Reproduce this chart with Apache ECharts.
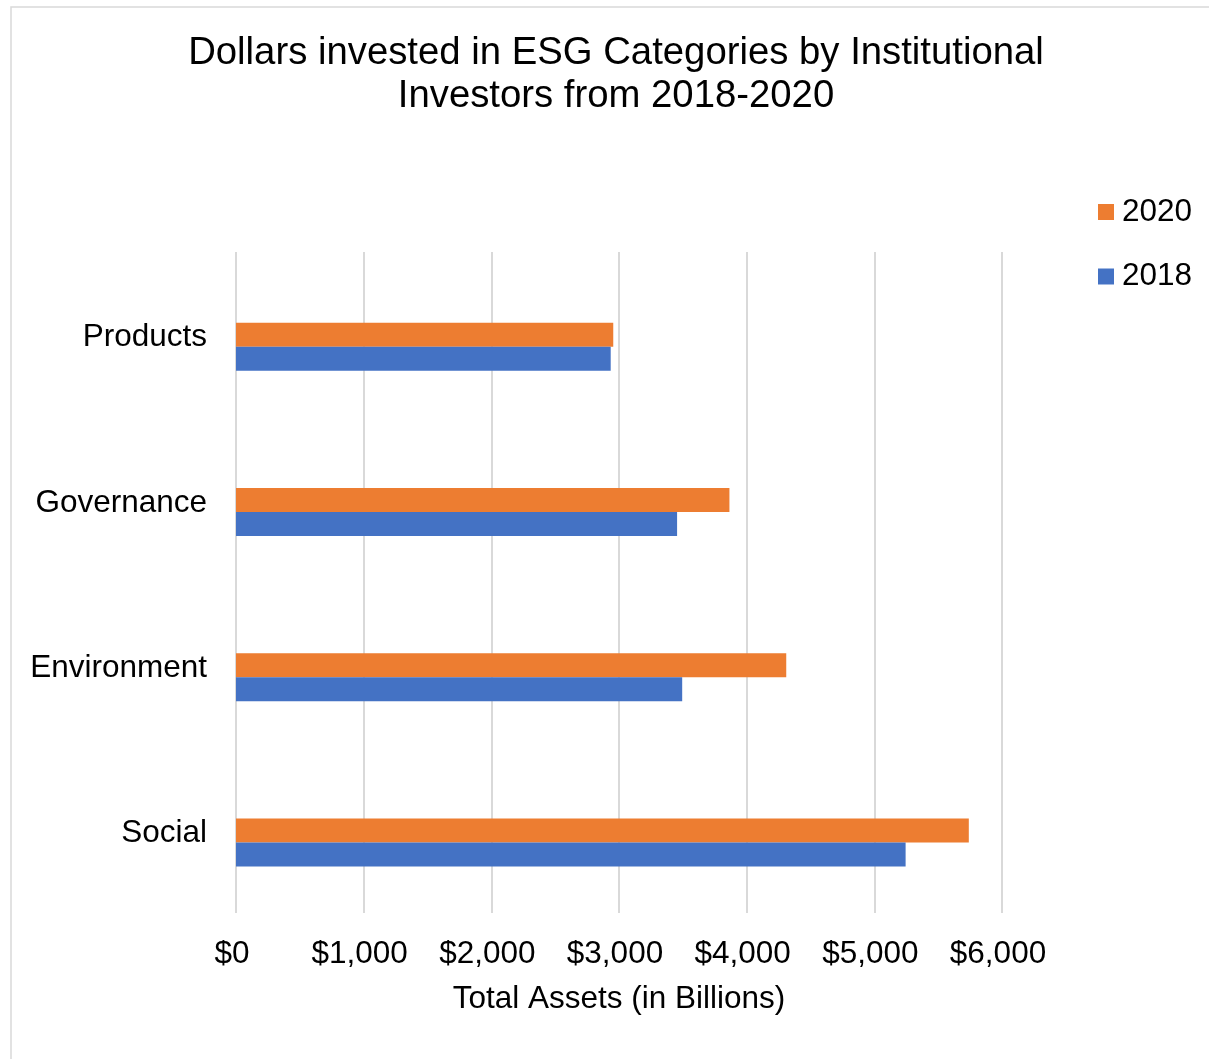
<!DOCTYPE html>
<html>
<head>
<meta charset="utf-8">
<script src="https://cdn.jsdelivr.net/npm/echarts@6/dist/echarts.min.js"></script>
<style>
  html, body { margin: 0; padding: 0; background: #fff; }
  #chart { width: 1209px; height: 1059px; }
</style>
</head>
<body>
<div id="chart"></div>
<script>
// ESG asset totals by category, in billions of dollars
const categories = ['Products', 'Governance', 'Environment', 'Social'];
const assets2020 = [2955, 3865, 4310, 5740];
const assets2018 = [2935, 3455, 3495, 5245];
const tickValues = [0, 1000, 2000, 3000, 4000, 5000, 6000];

const FONT = 'Arial, "Liberation Sans", sans-serif';
const chart = echarts.init(document.getElementById('chart'));

chart.setOption({
  backgroundColor: '#fff',
  animation: false,
  textStyle: { fontFamily: FONT, color: '#000' },
  graphic: [{
    type: 'rect',
    shape: { x: 11, y: 7, width: 1400, height: 1200 },
    style: { fill: 'none', stroke: '#d9d9d9', lineWidth: 1.5 },
    silent: true
  }],
  title: {
    text: 'Dollars invested in ESG Categories by Institutional\nInvestors from 2018-2020',
    left: 616,
    top: 32,
    padding: 0,
    textAlign: 'center',
    textStyle: { fontFamily: FONT, fontSize: 38.3, fontWeight: 'normal', color: '#000', lineHeight: 43 }
  },
  legend: {
    data: ['2020', '2018'],
    orient: 'vertical',
    left: 1098,
    top: 196,
    padding: 0,
    icon: 'rect',
    itemWidth: 16,
    itemHeight: 16,
    itemGap: 32.5,
    textStyle: { fontFamily: FONT, fontSize: 31.5, color: '#000', lineHeight: 32, padding: [0, 0, 0, 3] }
  },
  grid: { left: 236, right: 207, top: 252, bottom: 146, containLabel: false },
  xAxis: {
    type: 'value',
    min: tickValues[0],
    max: tickValues[tickValues.length - 1],
    interval: tickValues[1] - tickValues[0],
    name: 'Total Assets (in Billions)',
    nameLocation: 'middle',
    nameGap: 70,
    nameTextStyle: { fontFamily: FONT, fontSize: 31.5, color: '#000' },
    axisLine: { show: false },
    axisTick: { show: false },
    axisLabel: {
      fontFamily: FONT, fontSize: 31.5, color: '#000', margin: 25,
      padding: [0, 8, 0, 0],
      formatter: v => '$' + v.toLocaleString('en-US')
    },
    splitLine: { show: true, lineStyle: { color: '#d9d9d9', width: 2 } }
  },
  yAxis: {
    type: 'category',
    data: categories,
    inverse: true,
    axisLine: { show: false },
    axisTick: { show: false },
    splitLine: { show: false },
    axisLabel: {
      fontFamily: FONT, fontSize: 31.5, color: '#000', margin: 29,
      formatter: v => '{c|' + v + '}',
      rich: { c: { fontFamily: FONT, fontSize: 31.5, color: '#000', padding: [6, 0, 0, 0] } }
    }
  },
  series: [
    {
      // empty slot that keeps the pair of bars offset inside each band
      id: 'slot',
      type: 'bar',
      data: categories.map(() => null),
      barWidth: 24,
      barGap: '0%',
      silent: true
    },
    {
      name: '2020',
      type: 'bar',
      data: assets2020,
      barWidth: 24,
      barGap: '0%',
      itemStyle: { color: '#ED7D31' }
    },
    {
      name: '2018',
      type: 'bar',
      data: assets2018,
      barWidth: 24,
      barGap: '0%',
      itemStyle: { color: '#4472C4' }
    }
  ]
});
</script>
</body>
</html>
